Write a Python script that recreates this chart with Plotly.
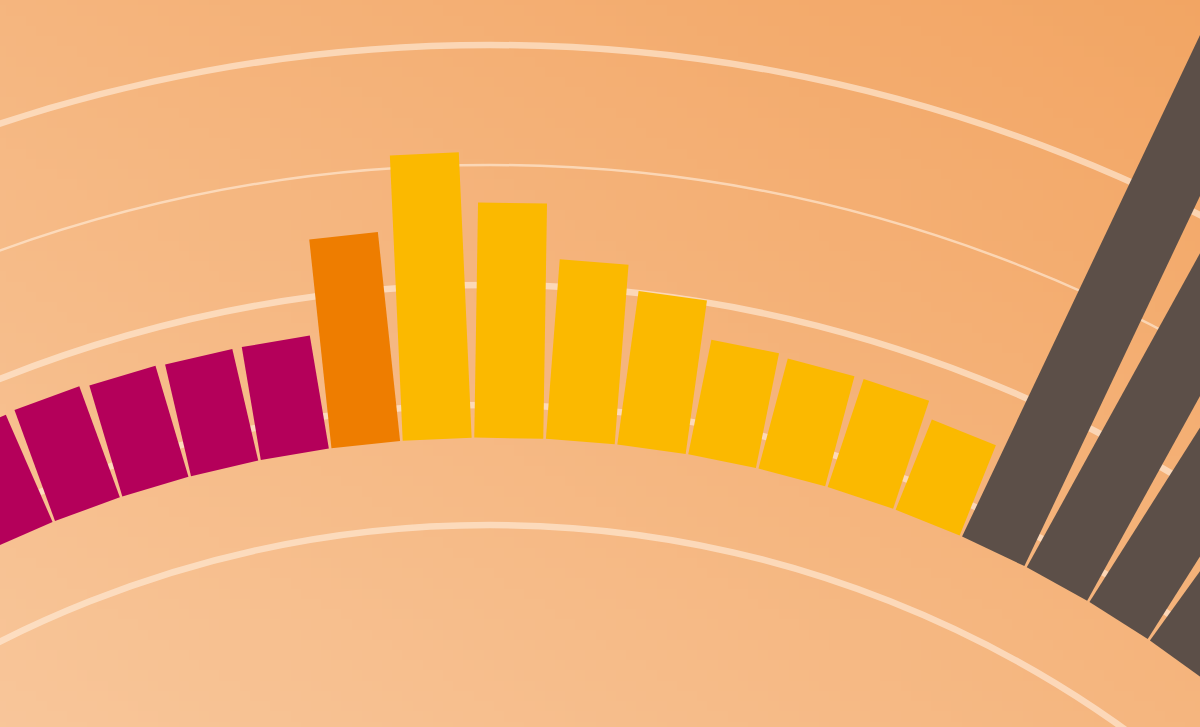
import base64
import struct
import zlib

import numpy as np
import plotly.graph_objects as go

# ---------------- data ----------------
categories = ["M1", "M2", "M3", "M4", "M5", "O1",
              "Y1", "Y2", "Y3", "Y4", "Y5", "Y6", "Y7", "Y8",
              "D1", "D2", "D3", "D4"]
magenta_cats = ["M1", "M2", "M3", "M4", "M5"]
magenta_vals = [17.0, 17.1, 16.9, 16.8, 16.8]
orange_cats = ["O1"]
orange_vals = [24.75]
yellow_cats = ["Y1", "Y2", "Y3", "Y4", "Y5", "Y6", "Y7", "Y8"]
yellow_vals = [31.05, 26.85, 22.25, 20.15, 17.0, 16.75, 16.75, 15.35]
dark_cats = ["D1", "D2", "D3", "D4"]
dark_vals = [58, 52, 48, 45]
bar_base = 7.25
grid_major = [0, 10, 20, 40]
grid_minor = [30]
radial_range = [-20, 60]

# ---------------- geometry / style ----------------
VIEW_W, VIEW_H = 1200, 727
CX, CY = 490, 1612          # polar centre in the window
R = 1807                    # outer radius in px
HOLE_PX = 847
FIG = 2 * R
BAR_PX = 69

COL_MAGENTA = "#B4005A"
COL_ORANGE = "#EE7D00"
COL_YELLOW = "#FBB900"
COL_DARK = "#5C4F48"
GRID_COL = "rgba(255,235,215,0.65)"


def gradient_uri(w, h, c_bl, c_tr):
    xs = np.linspace(0, 1, w)[None, :]
    ys = np.linspace(0, 1, h)[:, None]
    t = (xs + (1 - ys)) / 2.0
    c0 = np.array(c_bl, float)
    c1 = np.array(c_tr, float)
    img = (c0[None, None, :] * (1 - t[..., None]) + c1[None, None, :] * t[..., None])
    img = np.clip(np.round(img), 0, 255).astype(np.uint8)
    raw = b"".join(b"\x00" + img[y].tobytes() for y in range(h))

    def chunk(tag, data):
        c = struct.pack(">I", len(data)) + tag + data
        return c + struct.pack(">I", zlib.crc32(tag + data) & 0xFFFFFFFF)

    png = (b"\x89PNG\r\n\x1a\n"
           + chunk(b"IHDR", struct.pack(">IIBBBBB", w, h, 8, 2, 0, 0, 0))
           + chunk(b"IDAT", zlib.compress(raw, 9))
           + chunk(b"IEND", b""))
    return "data:image/png;base64," + base64.b64encode(png).decode()


def bar_trace(cats, vals, color):
    th, rr = [], []
    for c, v in zip(cats, vals):
        th += [c, c, None]
        rr += [bar_base, v, None]
    return go.Scatterpolar(
        r=rr, theta=th, mode="lines", subplot="polar2",
        line=dict(color=color, width=BAR_PX),
        hoverinfo="skip", showlegend=False, cliponaxis=True,
    )


fig = go.Figure()
# dummy trace to hold the major-grid subplot
fig.add_trace(go.Scatterpolar(r=[radial_range[0]], theta=[0], mode="markers",
                              marker=dict(opacity=0), subplot="polar",
                              hoverinfo="skip", showlegend=False))
fig.add_trace(bar_trace(magenta_cats, magenta_vals, COL_MAGENTA))
fig.add_trace(bar_trace(orange_cats, orange_vals, COL_ORANGE))
fig.add_trace(bar_trace(yellow_cats, yellow_vals, COL_YELLOW))
fig.add_trace(bar_trace(dark_cats, dark_vals, COL_DARK))

hole = HOLE_PX / R
common_radial = dict(range=radial_range, showticklabels=False, ticks="",
                     showline=False, gridcolor=GRID_COL, tickmode="array")
common_ang = dict(showgrid=False, showline=False, ticks="", showticklabels=False)

fig.update_layout(
    width=FIG, height=FIG,
    margin=dict(l=0, r=0, t=0, b=0),
    paper_bgcolor="rgba(0,0,0,0)",
    plot_bgcolor="rgba(0,0,0,0)",
    showlegend=False,
    polar=dict(
        domain=dict(x=[0, 1], y=[0, 1]), hole=hole, bgcolor="rgba(0,0,0,0)",
        radialaxis=dict(tickvals=grid_major, gridwidth=6.5, **common_radial),
        angularaxis=dict(**common_ang),
    ),
    polar2=dict(
        domain=dict(x=[0, 1], y=[0, 1]), hole=hole, bgcolor="rgba(0,0,0,0)",
        radialaxis=dict(tickvals=grid_minor, gridwidth=2.5, **common_radial),
        angularaxis=dict(type="category", categoryorder="array",
                         categoryarray=categories, period=103,
                         rotation=113.55, direction="clockwise", **common_ang),
    ),
)

off_x = R - CX
off_y = R - CY
fig.add_layout_image(dict(
    source=gradient_uri(120, 73, (248, 198, 154), (242, 165, 99)),
    xref="paper", yref="paper",
    x=(off_x - 10) / FIG, y=1 - (off_y - 10) / FIG,
    sizex=(VIEW_W + 20) / FIG, sizey=(VIEW_H + 20) / FIG,
    xanchor="left", yanchor="top", sizing="stretch", layer="below",
))

post = (
    "var gd=document.getElementById('{plot_id}');"
    "document.documentElement.style.overflow='hidden';"
    "document.body.style.margin='0';document.body.style.overflow='hidden';"
    "gd.style.position='absolute';"
    "gd.style.left='" + str(-off_x) + "px';"
    "gd.style.top='" + str(-off_y) + "px';"
)

fig.write_html("out.html", config={"displayModeBar": False, "staticPlot": True},
               post_script=post)
